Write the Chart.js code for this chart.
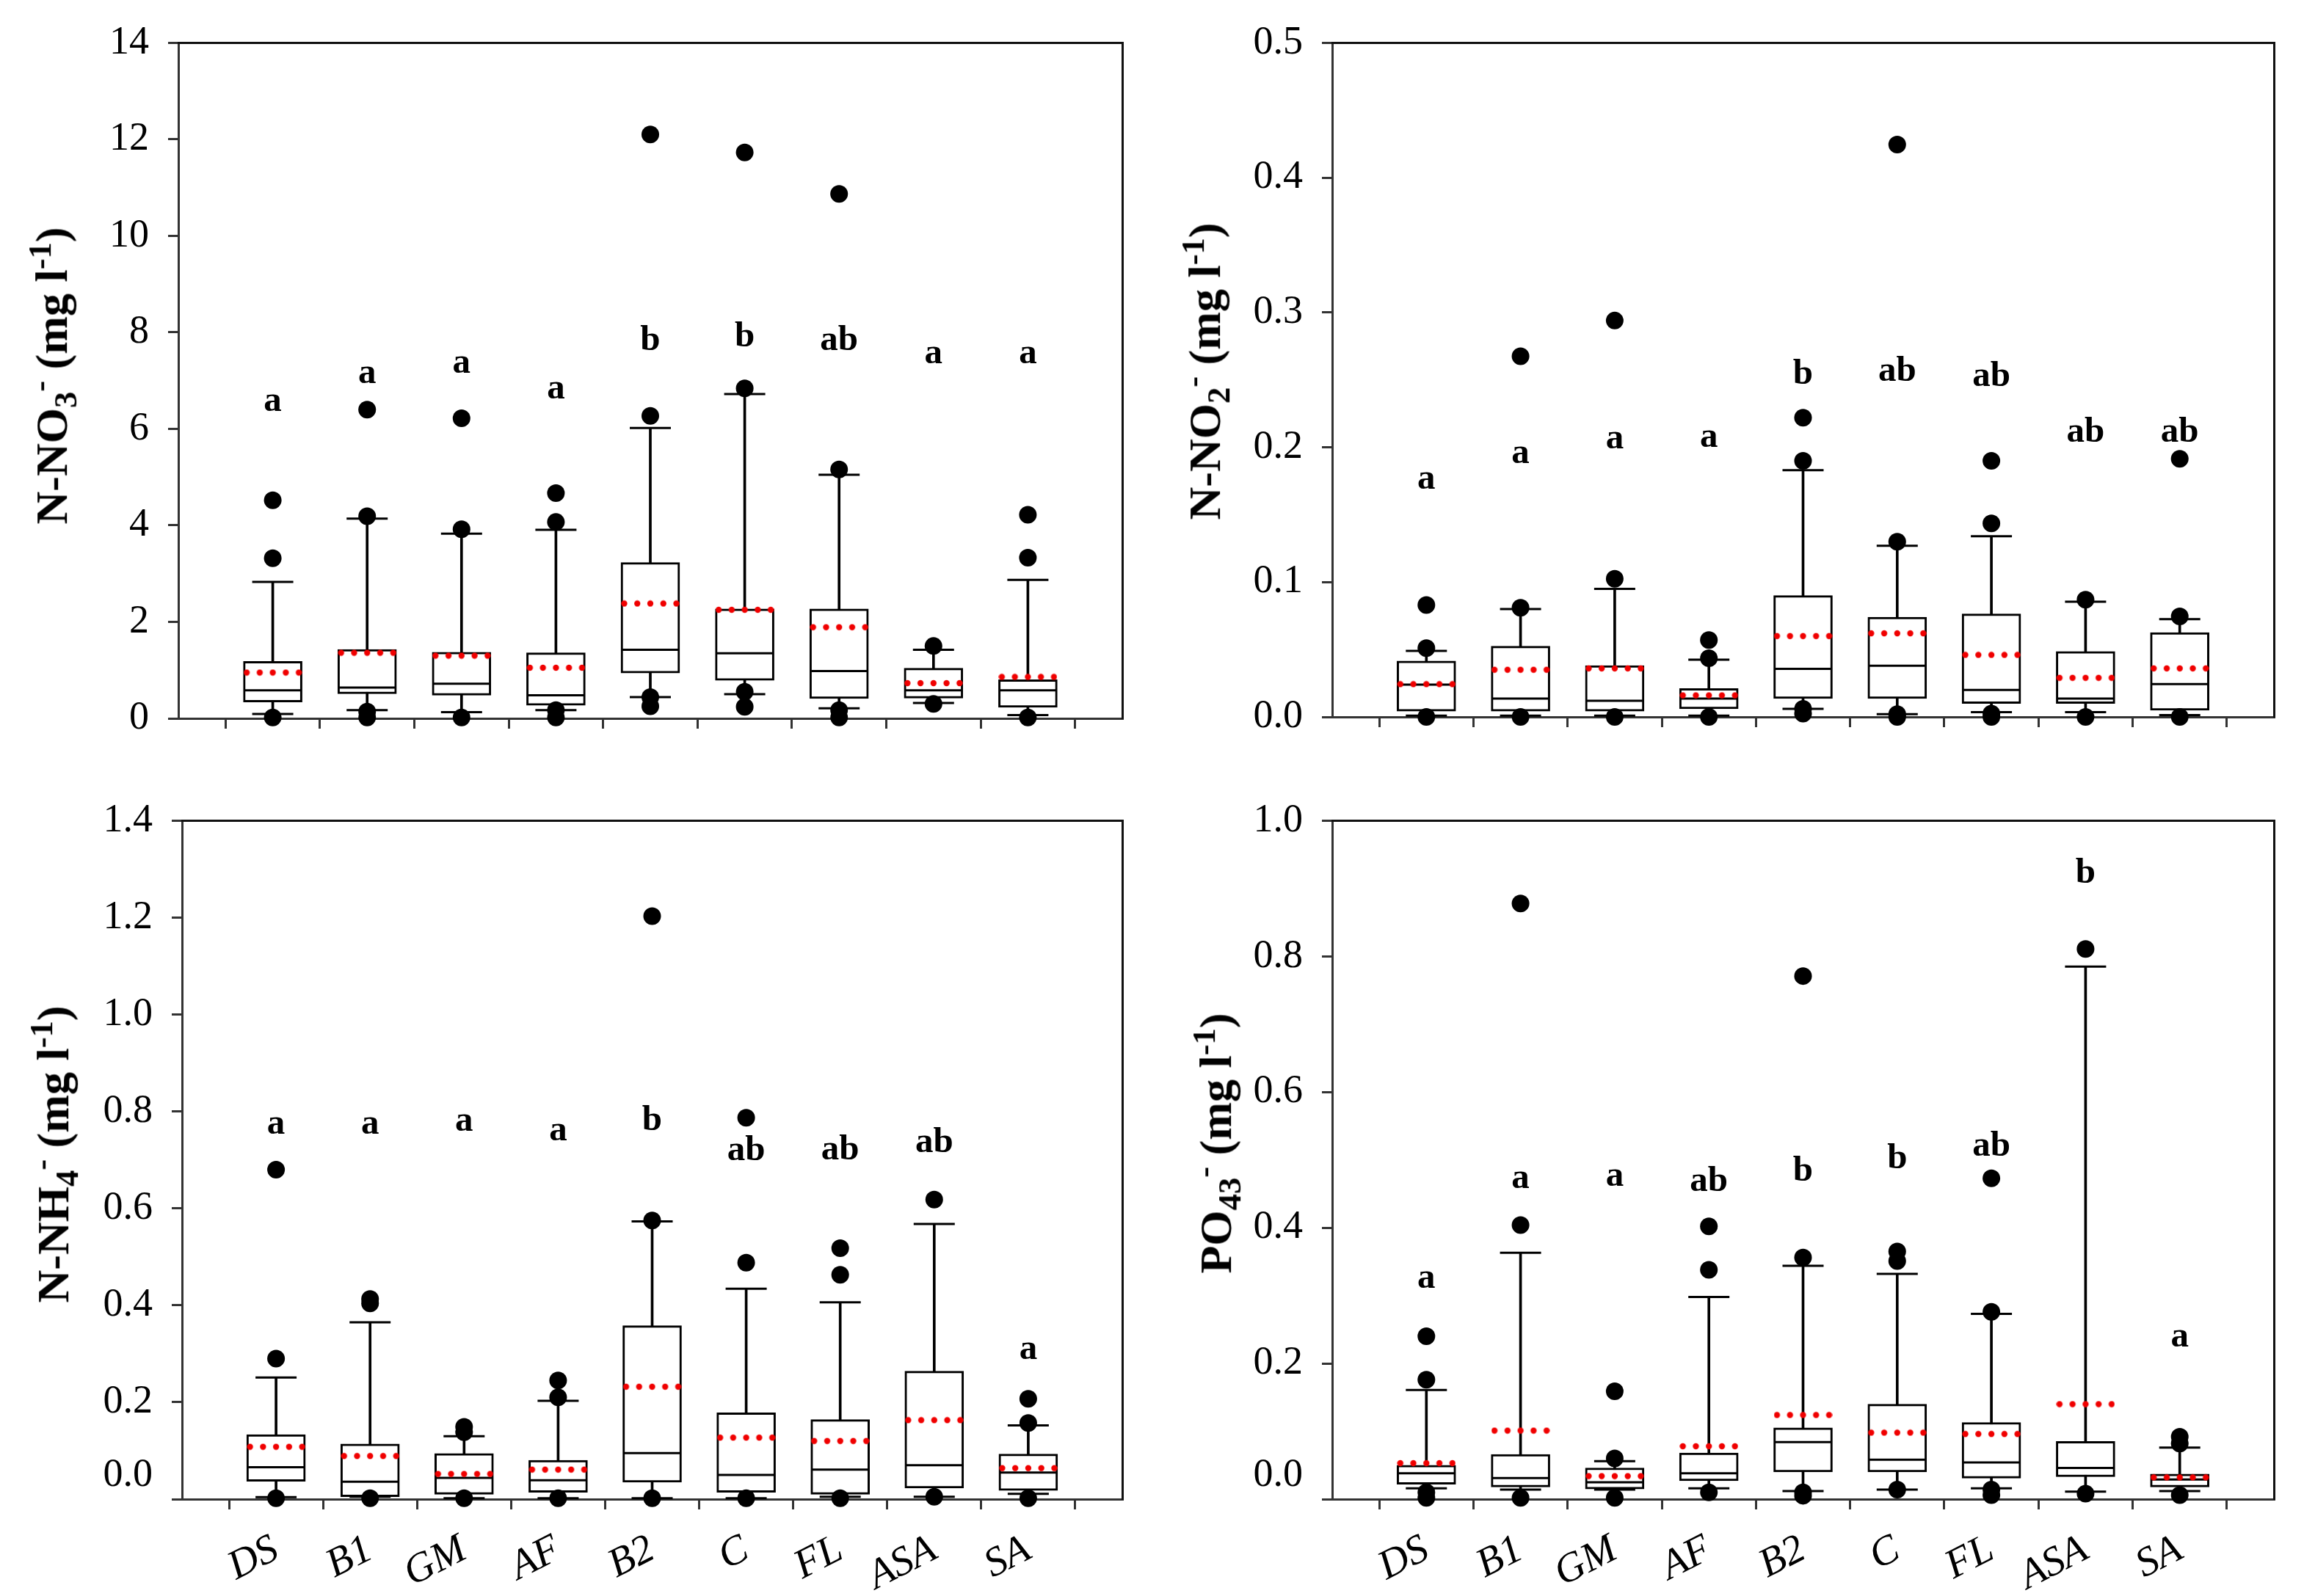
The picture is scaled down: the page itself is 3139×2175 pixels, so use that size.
<!DOCTYPE html>
<html>
<head>
<meta charset="utf-8">
<script src="https://cdn.jsdelivr.net/npm/chart.js@4.4.0/dist/chart.umd.min.js"></script>
<style>
  body { margin: 0; width: 3139px; height: 2175px; background: #fff; position: relative; overflow: hidden;
         font-family: 'Liberation Serif', 'Times New Roman', serif; }
  canvas { position: absolute; }
  .ytitle { position: absolute; font-weight: bold; font-size: 62px; white-space: nowrap; line-height: 1;
            transform: translate(-50%, -50%) rotate(-90deg); color: #000; }
  .ytitle sub, .ytitle sup { font-size: 0.72em; }
</style>
</head>
<body>
<canvas id="cNO3" width="1570" height="1090" style="left:0;top:0"></canvas>
<canvas id="cNO2" width="1569" height="1090" style="left:1570px;top:0"></canvas>
<canvas id="cNH4" width="1570" height="1115" style="left:0;top:1060px"></canvas>
<canvas id="cPO4" width="1569" height="1115" style="left:1570px;top:1060px"></canvas>

<div class="ytitle" style="left:72px;top:512px">N-NO<sub>3</sub><sup>-</sup> (mg l<sup>-1</sup>)</div>
<div class="ytitle" style="left:1643px;top:506px">N-NO<sub>2</sub><sup>-</sup> (mg l<sup>-1</sup>)</div>
<div class="ytitle" style="left:74px;top:1573px">N-NH<sub>4</sub><sup>-</sup> (mg l<sup>-1</sup>)</div>
<div class="ytitle" style="left:1658px;top:1558px">PO<sub>43</sub><sup>-</sup> (mg l<sup>-1</sup>)</div>

<script>
// categories (sites)
const sites = ['DS', 'B1', 'GM', 'AF', 'B2', 'C', 'FL', 'ASA', 'SA'];

// --- N-NO3 (top left)
const no3Q1 = [0.34, 0.51, 0.48, 0.27, 0.94, 0.79, 0.41, 0.42, 0.23];
const no3Q3 = [1.18, 1.43, 1.37, 1.36, 3.23, 2.27, 2.27, 1.04, 0.80];
const no3Median = [0.58, 0.64, 0.72, 0.48, 1.42, 1.35, 0.98, 0.58, 0.58];
const no3Mean = [0.95, 1.36, 1.30, 1.05, 2.38, 2.25, 1.89, 0.73, 0.86];
const no3Low = [0.09, 0.17, 0.13, 0.17, 0.44, 0.50, 0.21, 0.32, 0.07];
const no3High = [2.83, 4.14, 3.83, 3.91, 6.02, 6.72, 5.05, 1.42, 2.87];
const no3Out = [[4.52, 3.32, 0.02], [6.40, 4.19, 0.14, 0.02], [6.22, 3.92, 0.02], [4.67, 4.07, 0.17, 0.02],
  [12.10, 6.27, 0.44, 0.25], [11.73, 6.84, 0.55, 0.24], [10.87, 5.16, 0.17, 0.02], [1.50, 0.30], [4.22, 3.33, 0.02]];
const no3Letters = ['a', 'a', 'a', 'a', 'b', 'b', 'ab', 'a', 'a'];
const no3LetterY = [6.57, 7.14, 7.35, 6.83, 7.82, 7.90, 7.82, 7.56, 7.56];

// --- N-NO2 (top right)
const no2Q1 = [0.0043, 0.0043, 0.0043, 0.006, 0.0136, 0.0136, 0.010, 0.010, 0.005];
const no2Q3 = [0.0414, 0.0525, 0.038, 0.021, 0.090, 0.074, 0.0764, 0.0486, 0.0625];
const no2Median = [0.024, 0.0136, 0.012, 0.0136, 0.0357, 0.038, 0.020, 0.0136, 0.0243];
const no2Mean = [0.0243, 0.035, 0.036, 0.016, 0.060, 0.062, 0.046, 0.029, 0.036];
const no2Low = [0.001, 0.001, 0.001, 0.001, 0.006, 0.002, 0.0036, 0.0036, 0.0014];
const no2High = [0.049, 0.080, 0.095, 0.0425, 0.183, 0.127, 0.134, 0.0854, 0.0725];
const no2Out = [[0.083, 0.051, 0], [0.2675, 0.081, 0], [0.294, 0.1025, 0], [0.057, 0.0436, 0],
  [0.222, 0.19, 0.006, 0.0025], [0.4246, 0.130, 0.002, 0], [0.19, 0.1436, 0.0025, 0], [0.087, 0], [0.1914, 0.0746, 0]];
const no2Letters = ['a', 'a', 'a', 'a', 'b', 'ab', 'ab', 'ab', 'ab'];
const no2LetterY = [0.176, 0.195, 0.206, 0.207, 0.254, 0.256, 0.2525, 0.211, 0.211];

// --- N-NH4 (bottom left)
const nh4Q1 = [0.037, 0.005, 0.010, 0.014, 0.035, 0.014, 0.010, 0.023, 0.018];
const nh4Q3 = [0.133, 0.114, 0.094, 0.080, 0.358, 0.178, 0.164, 0.264, 0.093];
const nh4Median = [0.066, 0.036, 0.044, 0.039, 0.095, 0.050, 0.061, 0.070, 0.055];
const nh4Mean = [0.108, 0.089, 0.052, 0.061, 0.232, 0.127, 0.120, 0.163, 0.064];
const nh4Low = [0.004, 0.005, 0.002, 0.002, 0.002, 0.002, 0.005, 0.005, 0.011];
const nh4High = [0.251, 0.365, 0.130, 0.203, 0.573, 0.434, 0.406, 0.568, 0.152];
const nh4Out = [[0.680, 0.290, 0.002], [0.413, 0.404, 0.002], [0.149, 0.138, 0.002], [0.245, 0.210, 0.002],
  [1.203, 0.575, 0.002], [0.787, 0.488, 0.002], [0.518, 0.463, 0.002], [0.618, 0.005], [0.207, 0.157, 0.002]];
const nh4Letters = ['a', 'a', 'a', 'a', 'b', 'ab', 'ab', 'ab', 'a'];
const nh4LetterY = [0.773, 0.773, 0.779, 0.760, 0.781, 0.719, 0.720, 0.735, 0.308];

// --- PO4 (bottom right)
const po4Q1 = [0.022, 0.018, 0.015, 0.027, 0.040, 0.040, 0.031, 0.033, 0.018];
const po4Q3 = [0.050, 0.066, 0.046, 0.068, 0.105, 0.140, 0.113, 0.085, 0.037];
const po4Median = [0.038, 0.031, 0.025, 0.038, 0.084, 0.058, 0.054, 0.046, 0.029];
const po4Mean = [0.053, 0.101, 0.034, 0.078, 0.124, 0.098, 0.096, 0.140, 0.032];
const po4Low = [0.016, 0.014, 0.014, 0.016, 0.012, 0.014, 0.016, 0.011, 0.012];
const po4High = [0.161, 0.363, 0.056, 0.298, 0.344, 0.332, 0.273, 0.785, 0.076];
const po4Out = [[0.240, 0.176, 0.010, 0.002], [0.878, 0.404, 0.002], [0.159, 0.060, 0.002], [0.402, 0.338, 0.010],
  [0.771, 0.356, 0.010, 0.005], [0.365, 0.351, 0.014], [0.473, 0.276, 0.014, 0.006], [0.811, 0.008], [0.092, 0.082, 0.006]];
const po4Letters = ['a', 'a', 'a', 'ab', 'b', 'b', 'ab', 'b', 'a'];
const po4LetterY = [0.325, 0.472, 0.476, 0.468, 0.483, 0.502, 0.520, 0.922, 0.239];

// y axis ranges
const no3Ticks = { max: 14, step: 2, digits: 0 };
const no2Ticks = { max: 0.5, step: 0.1, digits: 1 };
const nh4Ticks = { max: 1.4, step: 0.2, digits: 1 };
const po4Ticks = { max: 1.0, step: 0.2, digits: 1 };

Chart.defaults.font.family = "'Liberation Serif', 'Times New Roman', serif";
Chart.defaults.color = '#000';

const AXIS = '#333';
const BOX_W = 80;

// red dotted mean line used as point image
function dottedLine(w, n, color) {
  const c = document.createElement('canvas');
  c.width = w; c.height = 10;
  const g = c.getContext('2d');
  g.fillStyle = color;
  for (let k = 0; k < n; k++) {
    g.beginPath();
    g.arc(4.5 + k * (w - 9) / (n - 1), 5, 4.2, 0, Math.PI * 2);
    g.fill();
  }
  return c;
}
const meanMark = dottedLine(BOX_W, 5, '#f00000');

// significance letters above each box
const lettersPlugin = {
  id: 'letters',
  afterDatasetsDraw(chart, args, opts) {
    const { ctx, scales: { x, y } } = chart;
    ctx.save();
    ctx.font = "bold 49px 'Liberation Serif', serif";
    ctx.fillStyle = '#000';
    ctx.textAlign = 'center';
    ctx.textBaseline = 'middle';
    opts.labels.forEach((t, i) => ctx.fillText(t, x.getPixelForValue(i + 1), y.getPixelForValue(opts.values[i])));
    ctx.restore();
  }
};

function makeBoxChart(id, d, area, showNames, zeroUp) {
  const canvas = document.getElementById(id);
  const W = canvas.width, H = canvas.height;
  const pos = (i) => i + 1;
  const outPts = [];
  d.out.forEach((vals, i) => vals.forEach(v => outPts.push({ x: pos(i), y: v })));
  const capPts = [];
  sites.forEach((s, i) => { capPts.push({ x: pos(i), y: d.low[i] }, { x: pos(i), y: d.high[i] }); });

  return new Chart(canvas, {
    type: 'bar',
    data: {
      datasets: [
        { type: 'bar', order: 5, grouped: false, barThickness: 3, backgroundColor: '#000', borderWidth: 0, clip: false,
          data: sites.map((s, i) => ({ x: pos(i), y: [d.low[i], d.high[i]] })) },
        { type: 'scatter', order: 4, pointStyle: 'line', radius: 28, borderWidth: 3, borderColor: '#000', clip: false,
          data: capPts },
        { type: 'bar', order: 3, grouped: false, barThickness: BOX_W, backgroundColor: '#fff', borderColor: '#000',
          borderWidth: 3, borderSkipped: false, clip: false,
          data: sites.map((s, i) => ({ x: pos(i), y: [d.q1[i], d.q3[i]] })) },
        { type: 'scatter', order: 2, pointStyle: 'line', radius: BOX_W / 2 - 2, borderWidth: 3, borderColor: '#000', clip: false,
          data: sites.map((s, i) => ({ x: pos(i), y: d.median[i] })) },
        { type: 'scatter', order: 1, pointStyle: meanMark, radius: 4, clip: false,
          data: sites.map((s, i) => ({ x: pos(i), y: d.mean[i] })) },
        { type: 'scatter', order: 0, pointStyle: 'circle', radius: 12, backgroundColor: '#000', borderWidth: 0, clip: false,
          data: outPts }
      ]
    },
    options: {
      responsive: false,
      animation: false,
      devicePixelRatio: 1,
      events: [],
      layout: { padding: { left: 0, top: area.top, right: W - area.right, bottom: 0 } },
      plugins: {
        legend: { display: false },
        tooltip: { enabled: false },
        letters: { labels: d.letters, values: d.letterY }
      },
      scales: {
        x: {
          type: 'linear', position: 'bottom', min: 0, max: sites.length + 1, offset: false,
          afterBuildTicks: (s) => { s.ticks = sites.map((n, i) => ({ value: pos(i) })); },
          afterFit: (s) => { s.height = H - area.bottom; },
          grid: { drawOnChartArea: false, drawTicks: true, tickLength: 14, color: AXIS, lineWidth: 3 },
          border: { display: true, color: AXIS, width: 3 },
          ticks: {
            display: showNames, autoSkip: false, minRotation: 27, maxRotation: 27, padding: 22,
            font: { size: 56, style: 'italic' },
            callback: (v) => sites[v - 1] || ''
          }
        },
        y: {
          type: 'linear', position: 'left', min: 0, max: d.ticks.max,
          afterFit: (s) => { s.width = area.left; },
          grid: { drawOnChartArea: false, drawTicks: true, tickLength: 14, color: AXIS, lineWidth: 3 },
          border: { display: true, color: AXIS, width: 3 },
          ticks: {
            stepSize: d.ticks.step, autoSkip: false, padding: 26, font: { size: 54 },
            callback: (v) => {
              const t = Number(v).toFixed(d.ticks.digits);
              return (zeroUp && Math.abs(v) < 1e-9) ? [t, ''] : t;
            }
          }
        },
        xTop: {
          type: 'linear', position: 'top', min: 0, max: sites.length + 1,
          afterFit: (s) => { s.height = 0; },
          grid: { display: false, drawTicks: false }, ticks: { display: false },
          border: { display: true, color: '#111', width: 3 }
        },
        yRight: {
          type: 'linear', position: 'right', min: 0, max: d.ticks.max,
          afterFit: (s) => { s.width = 0; },
          grid: { display: false, drawTicks: false }, ticks: { display: false },
          border: { display: true, color: '#111', width: 3 }
        }
      }
    },
    plugins: [lettersPlugin]
  });
}

makeBoxChart('cNO3', { q1: no3Q1, q3: no3Q3, median: no3Median, mean: no3Mean, low: no3Low, high: no3High,
  out: no3Out, letters: no3Letters, letterY: no3LetterY, ticks: no3Ticks },
  { left: 243, top: 41, right: 1550, bottom: 979 }, false, false);
makeBoxChart('cNO2', { q1: no2Q1, q3: no2Q3, median: no2Median, mean: no2Mean, low: no2Low, high: no2High,
  out: no2Out, letters: no2Letters, letterY: no2LetterY, ticks: no2Ticks },
  { left: 245, top: 34, right: 1549, bottom: 977 }, false, false);
makeBoxChart('cNH4', { q1: nh4Q1, q3: nh4Q3, median: nh4Median, mean: nh4Mean, low: nh4Low, high: nh4High,
  out: nh4Out, letters: nh4Letters, letterY: nh4LetterY, ticks: nh4Ticks },
  { left: 248, top: 44, right: 1553, bottom: 983 }, true, true);
makeBoxChart('cPO4', { q1: po4Q1, q3: po4Q3, median: po4Median, mean: po4Mean, low: po4Low, high: po4High,
  out: po4Out, letters: po4Letters, letterY: po4LetterY, ticks: po4Ticks },
  { left: 245, top: 39, right: 1549, bottom: 983 }, true, true);
</script>
</body>
</html>
